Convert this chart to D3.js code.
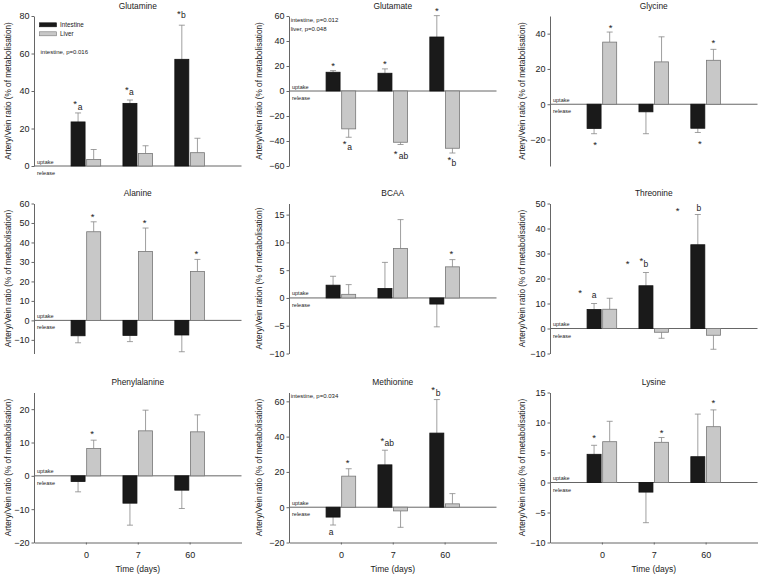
<!DOCTYPE html>
<html>
<head>
<meta charset="utf-8">
<script src="https://cdn.jsdelivr.net/npm/d3@7"></script>
<style>
  html, body { margin: 0; padding: 0; background: #fff; }
  svg { display: block; font-family: "Liberation Sans", Arial, sans-serif; }
</style>
</head>
<body>
<svg id="chart" width="759" height="574"></svg>
<script>
// ---------- data ----------
const days = ["0", "7", "60"];
const seriesNames = ["Intestine", "Liver"];

const glutamineIntestine = [23.5, 33.4, 56.9];
const glutamineIntestineSE = [4.8, 1.8, 18.2];
const glutamineLiver = [3.5, 6.7, 7.1];
const glutamineLiverSE = [5.3, 4.1, 7.7];
const glutamineTicks = [0, 20, 40, 60, 80];

const glutamateIntestine = [15.0, 14.2, 43.2];
const glutamateIntestineSE = [1.3, 3.5, 17.1];
const glutamateLiver = [-30.3, -41.0, -45.8];
const glutamateLiverSE = [6.7, 1.8, 3.8];
const glutamateTicks = [-60, -40, -20, 0, 20, 40, 60];

const glycineIntestine = [-13.7, -4.3, -13.6];
const glycineIntestineSE = [3.0, 12.4, 2.4];
const glycineLiver = [35.2, 24.0, 24.9];
const glycineLiverSE = [5.7, 14.2, 6.2];
const glycineTicks = [-20, 0, 20, 40];

const alanineIntestine = [-7.9, -7.7, -7.5];
const alanineIntestineSE = [3.6, 3.2, 8.6];
const alanineLiver = [45.5, 35.4, 25.1];
const alanineLiverSE = [5.1, 12.0, 6.2];
const alanineTicks = [-10, 0, 10, 20, 30, 40, 50, 60];

const bcaaIntestine = [2.3, 1.7, -1.1];
const bcaaIntestineSE = [1.6, 4.7, 4.1];
const bcaaLiver = [0.65, 8.9, 5.6];
const bcaaLiverSE = [1.75, 5.2, 1.3];
const bcaaTicks = [-10, -5, 0, 5, 10, 15];

const threonineIntestine = [7.6, 17.1, 33.5];
const threonineIntestineSE = [2.4, 5.3, 12.1];
const threonineLiver = [7.7, -1.5, -2.7];
const threonineLiverSE = [4.4, 2.4, 5.6];
const threonineTicks = [-10, 0, 10, 20, 30, 40, 50];

const phenylalanineIntestine = [-1.7, -8.2, -4.3];
const phenylalanineIntestineSE = [3.1, 6.6, 5.5];
const phenylalanineLiver = [8.2, 13.5, 13.2];
const phenylalanineLiverSE = [2.5, 6.2, 5.1];
const phenylalanineTicks = [-20, -10, 0, 10, 20];

const methionineIntestine = [-5.6, 24.0, 42.0];
const methionineIntestineSE = [4.5, 8.3, 19.0];
const methionineLiver = [17.6, -2.1, 1.9];
const methionineLiverSE = [4.2, 9.3, 5.8];
const methionineTicks = [-20, 0, 20, 40, 60];

const lysineIntestine = [4.7, -1.6, 4.3];
const lysineIntestineSE = [1.5, 5.1, 7.1];
const lysineLiver = [6.8, 6.7, 9.3];
const lysineLiverSE = [3.4, 0.8, 2.8];
const lysineTicks = [-10, -5, 0, 5, 10, 15];

// significance marks: day index, series (0 intestine, 1 liver), text, value level
const glutamineMarks = [
  {d: 0, s: 0, t: "*", v: 34.4, dx: -3}, {d: 0, s: 0, t: "a", v: 31.5, dx: 2},
  {d: 1, s: 0, t: "*", v: 41.5, dx: -3}, {d: 1, s: 0, t: "a", v: 39.2, dx: 1.5},
  {d: 2, s: 0, t: "*", v: 82.1, dx: -3}, {d: 2, s: 0, t: "b", v: 80.4, dx: 1.5}
];
const glutamateMarks = [
  {d: 0, s: 0, t: "*", v: 21.7, dx: 0}, {d: 1, s: 0, t: "*", v: 23.3, dx: 0},
  {d: 2, s: 0, t: "*", v: 66.2, dx: 0},
  {d: 0, s: 1, t: "*", v: -40.5, dx: -4}, {d: 0, s: 1, t: "a", v: -44.8, dx: 1},
  {d: 1, s: 1, t: "*", v: -48.6, dx: -5}, {d: 1, s: 1, t: "ab", v: -52.6, dx: 3},
  {d: 2, s: 1, t: "*", v: -53.6, dx: -3}, {d: 2, s: 1, t: "b", v: -57.9, dx: 1.5}
];
const glycineMarks = [
  {d: 0, s: 1, t: "*", v: 44.6, dx: 1}, {d: 0, s: 0, t: "*", v: -22.0, dx: 1},
  {d: 2, s: 1, t: "*", v: 35.8, dx: 0}, {d: 2, s: 0, t: "*", v: -21.2, dx: 2}
];
const alanineMarks = [
  {d: 0, s: 1, t: "*", v: 54.0, dx: -1}, {d: 1, s: 1, t: "*", v: 51.1, dx: -1},
  {d: 2, s: 1, t: "*", v: 35.5, dx: -1}
];
const bcaaMarks = [{d: 2, s: 1, t: "*", v: 8.3, dx: -1}];
const threonineMarks = [
  {d: 0, s: 0, t: "*", v: 15.1, dx: -14}, {d: 0, s: 0, t: "a", v: 13.4, dx: 0},
  {d: 1, s: 0, t: "*", v: 26.7, dx: -18.4}, {d: 1, s: 0, t: "*", v: 27.8, dx: -4.7},
  {d: 1, s: 0, t: "b", v: 25.8, dx: 0},
  {d: 2, s: 0, t: "*", v: 47.8, dx: -20.2}, {d: 2, s: 0, t: "b", v: 48.2, dx: 1}
];
const phenylalanineMarks = [{d: 0, s: 1, t: "*", v: 13.1, dx: -1.5}];
const methionineMarks = [
  {d: 0, s: 0, t: "a", v: -14.1, dx: -2}, {d: 0, s: 1, t: "*", v: 26.5, dx: -1},
  {d: 1, s: 0, t: "*", v: 38.7, dx: -2.7}, {d: 1, s: 0, t: "ab", v: 35.9, dx: 4.3},
  {d: 2, s: 0, t: "*", v: 67.8, dx: -3.8}, {d: 2, s: 0, t: "b", v: 64.4, dx: 1.2}
];
const lysineMarks = [
  {d: 0, s: 0, t: "*", v: 7.8, dx: 0}, {d: 1, s: 1, t: "*", v: 8.6, dx: 0},
  {d: 2, s: 1, t: "*", v: 13.6, dx: 0}
];

const yLabel = "Artery/Vein ratio (% of metabolisation)";
const yLabelBCAA = "Artery/Vein ration (% of metabolisation)";
const xLabel = "Time (days)";

// ---------- panels ----------
const panels = [
  {title: "Glutamine", row: 0, col: 0, domain: [0, 80], ticks: glutamineTicks,
   vals: [glutamineIntestine, glutamineLiver], se: [glutamineIntestineSE, glutamineLiverSE],
   marks: glutamineMarks, notes: ["intestine, p=0.016"], notesAt: [36], legend: true, label: yLabel},
  {title: "Glutamate", row: 0, col: 1, domain: [-60, 60], ticks: glutamateTicks,
   vals: [glutamateIntestine, glutamateLiver], se: [glutamateIntestineSE, glutamateLiverSE],
   marks: glutamateMarks, notes: ["intestine, p=0.012", "liver, p=0.048"], notesAt: [3.5, 12.8], label: yLabel},
  {title: "Glycine", row: 0, col: 2, domain: [-35, 50], ticks: glycineTicks,
   vals: [glycineIntestine, glycineLiver], se: [glycineIntestineSE, glycineLiverSE],
   marks: glycineMarks, label: yLabel},
  {title: "Alanine", row: 1, col: 0, domain: [-17, 60], ticks: alanineTicks,
   vals: [alanineIntestine, alanineLiver], se: [alanineIntestineSE, alanineLiverSE],
   marks: alanineMarks, label: yLabel},
  {title: "BCAA", row: 1, col: 1, domain: [-10, 17], ticks: bcaaTicks,
   vals: [bcaaIntestine, bcaaLiver], se: [bcaaIntestineSE, bcaaLiverSE],
   marks: bcaaMarks, label: yLabelBCAA},
  {title: "Threonine", row: 1, col: 2, domain: [-10, 50], ticks: threonineTicks,
   vals: [threonineIntestine, threonineLiver], se: [threonineIntestineSE, threonineLiverSE],
   marks: threonineMarks, label: yLabel},
  {title: "Phenylalanine", row: 2, col: 0, domain: [-20, 25], ticks: phenylalanineTicks,
   vals: [phenylalanineIntestine, phenylalanineLiver], se: [phenylalanineIntestineSE, phenylalanineLiverSE],
   marks: phenylalanineMarks, label: yLabel},
  {title: "Methionine", row: 2, col: 1, domain: [-20, 65], ticks: methionineTicks,
   vals: [methionineIntestine, methionineLiver], se: [methionineIntestineSE, methionineLiverSE],
   marks: methionineMarks, notes: ["intestine, p=0.034"], notesAt: [3.2], label: yLabel},
  {title: "Lysine", row: 2, col: 2, domain: [-10, 15], ticks: lysineTicks,
   vals: [lysineIntestine, lysineLiver], se: [lysineIntestineSE, lysineLiverSE],
   marks: lysineMarks, label: yLabel}
];

// ---------- layout ----------
const colX = [34, 289, 550];
const colLabelX = [8, 259, 522.5];
const noteDX = [6.5, 1.7, 6];
const plotW = 207.5;
const rowTop = [16, 203.5, 392.5];
const plotH = 150;
const barW = 14, barGap = 0.8, capW = 6;
const fills = ["#1a1a1a", "#c8c8c8"];
const strokes = ["#111", "#777"];
const axisColor = "#666";
const textColor = "#222";

const svg = d3.select("#chart");

panels.forEach(p => {
  const x0 = colX[p.col], top = rowTop[p.row];
  const g = svg.append("g");
  const x = d3.scalePoint().domain(days).range([x0, x0 + plotW]).padding(1);
  const y = d3.scaleLinear().domain(p.domain).range([top + plotH, top]);
  const barX = (d, s) => s === 0 ? x(days[d]) - barGap - barW : x(days[d]) + barGap;

  // title
  g.append("text").attr("x", x0 + plotW / 2).attr("y", top - 7.5)
    .attr("text-anchor", "middle").attr("font-size", 8.4).attr("fill", textColor).text(p.title);

  // y axis
  const ya = g.append("g").attr("transform", `translate(${x0},0)`)
    .call(d3.axisLeft(y).tickValues(p.ticks).tickSize(2.5).tickSizeOuter(0).tickPadding(2).tickFormat(d3.format("d")));
  ya.select(".domain").attr("stroke", axisColor);
  ya.selectAll(".tick line").attr("stroke", axisColor);
  ya.selectAll(".tick text").attr("font-size", 9).attr("fill", textColor).attr("font-family", "Liberation Sans, Arial, sans-serif");

  // y label
  g.append("text")
    .attr("transform", `translate(${colLabelX[p.col]},${top + plotH / 2}) rotate(-90)`)
    .attr("text-anchor", "middle").attr("dominant-baseline", "central")
    .attr("font-size", 8.2).attr("fill", textColor).text(p.label);

  // zero line
  g.append("line").attr("x1", x0).attr("x2", x0 + plotW).attr("y1", y(0)).attr("y2", y(0))
    .attr("stroke", axisColor).attr("stroke-width", 1);

  // bottom axis (last row)
  if (p.row === 2) {
    const xa = g.append("g").attr("transform", `translate(0,${top + plotH})`)
      .call(d3.axisBottom(x).tickSize(2).tickSizeOuter(0).tickPadding(7));
    xa.select(".domain").attr("stroke", axisColor);
    xa.selectAll(".tick line").attr("stroke", axisColor);
    xa.selectAll(".tick text").attr("font-size", 9).attr("fill", textColor).attr("font-family", "Liberation Sans, Arial, sans-serif");
    g.append("text").attr("x", x0 + plotW / 2).attr("y", top + plotH + 29)
      .attr("text-anchor", "middle").attr("font-size", 8.5).attr("fill", textColor).text(xLabel);
  }

  // uptake / release
  g.append("text").attr("x", x0 + 3).attr("y", y(0) - 2.5).attr("font-size", 5.5).attr("fill", textColor).text("uptake");
  g.append("text").attr("x", x0 + 3).attr("y", y(0) + 9).attr("font-size", 5.5).attr("fill", textColor).text("release");

  // error bars and bars
  [0, 1].forEach(s => {
    p.vals[s].forEach((v, d) => {
      const cx = barX(d, s) + barW / 2;
      const end = v >= 0 ? v + p.se[s][d] : v - p.se[s][d];
      g.append("line").attr("x1", cx).attr("x2", cx).attr("y1", y(v)).attr("y2", y(end))
        .attr("stroke", "#888").attr("stroke-width", 0.8);
      g.append("line").attr("x1", cx - capW / 2).attr("x2", cx + capW / 2).attr("y1", y(end)).attr("y2", y(end))
        .attr("stroke", "#888").attr("stroke-width", 0.8);
    });
  });
  [0, 1].forEach(s => {
    g.selectAll(null).data(p.vals[s]).join("rect")
      .attr("x", (v, d) => barX(d, s))
      .attr("width", barW)
      .attr("y", v => Math.min(y(v), y(0)))
      .attr("height", v => Math.abs(y(v) - y(0)))
      .attr("fill", fills[s]).attr("stroke", strokes[s]).attr("stroke-width", 0.8);
  });

  // significance marks
  (p.marks || []).forEach(m => {
    const cx = barX(m.d, m.s) + barW / 2 + m.dx;
    const isStar = m.t === "*";
    g.append("text").attr("x", cx).attr("y", y(m.v) + (isStar ? 5.3 : 2.6))
      .attr("text-anchor", "middle").attr("font-size", isStar ? 9.5 : 8.5)
      .attr("fill", textColor).text(m.t);
  });

  // p-value notes
  (p.notes || []).forEach((t, i) => {
    g.append("text").attr("x", x0 + noteDX[p.col]).attr("y", top + p.notesAt[i] + 2)
      .attr("font-size", 6).attr("fill", textColor).text(t);
  });

  // legend
  if (p.legend) {
    seriesNames.forEach((n, s) => {
      g.append("rect").attr("x", x0 + 5.5).attr("y", top + 6.8 + s * 9).attr("width", 17).attr("height", 4)
        .attr("fill", fills[s]).attr("stroke", strokes[s]).attr("stroke-width", 0.6);
      g.append("text").attr("x", x0 + 26).attr("y", top + 11.2 + s * 9)
        .attr("font-size", 6.3).attr("fill", textColor).text(n);
    });
  }
});
</script>
</body>
</html>
